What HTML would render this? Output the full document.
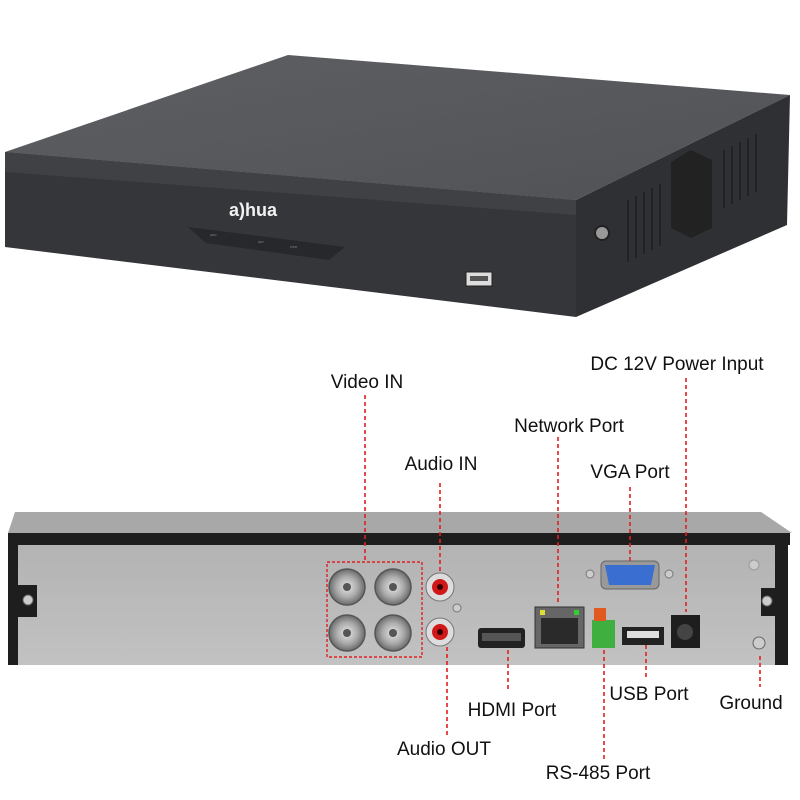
<!DOCTYPE html>
<html><head><meta charset="utf-8"><style>
html,body{margin:0;padding:0;background:#fff;width:800px;height:800px;overflow:hidden}
svg{display:block}
text{font-family:"Liberation Sans",sans-serif}
.lb{font-size:19px;fill:#111;text-anchor:middle}
.rl{stroke:#e02020;stroke-width:1.6;stroke-dasharray:4 3;fill:none}
</style></head><body>
<svg width="800" height="800" viewBox="0 0 800 800">
<defs>
<linearGradient id="tg" x1="0" y1="0" x2="1" y2="1"><stop offset="0" stop-color="#5d5f63"/><stop offset="1" stop-color="#505256"/></linearGradient>
<linearGradient id="pg" x1="0" y1="0" x2="0" y2="1"><stop offset="0" stop-color="#b3b3b3"/><stop offset="1" stop-color="#c2c2c2"/></linearGradient>
<radialGradient id="bnc"><stop offset="0" stop-color="#e8e8e8"/><stop offset="0.6" stop-color="#a8a8a8"/><stop offset="1" stop-color="#6a6a6a"/></radialGradient>
</defs>
<!-- top DVR -->
<polygon points="288,55 790,95 576,200 5,152" fill="url(#tg)"/>
<polygon points="5,152 576,200 576,317 5,247" fill="#34363a"/>
<polygon points="5,152 576,200 576,215 5,172" fill="#3f4145"/>
<polygon points="576,200 790,95 787,225 576,317" fill="#2e3034"/>
<polygon points="188,227 345,247 329,260 206,243" fill="#26282b"/>
<text x="210" y="236" font-size="3" fill="#888">HDD</text>
<text x="258" y="243" font-size="3" fill="#888">NET</text>
<text x="290" y="248" font-size="3" fill="#888">PWR</text>
<text x="229" y="216" font-size="18" font-weight="bold" fill="#f2f2f2">a)hua</text>
<rect x="466" y="272" width="26" height="14" fill="#ddd" stroke="#222"/>
<rect x="470" y="276" width="18" height="5" fill="#555"/>
<circle cx="602" cy="233" r="7" fill="#999" stroke="#222" stroke-width="2"/>
<g stroke="#222" stroke-width="2">
<line x1="628" y1="200" x2="628" y2="262"/><line x1="636" y1="196" x2="636" y2="258"/><line x1="644" y1="192" x2="644" y2="254"/><line x1="652" y1="188" x2="652" y2="250"/><line x1="660" y1="184" x2="660" y2="246"/>
<line x1="724" y1="150" x2="724" y2="208"/><line x1="732" y1="146" x2="732" y2="204"/><line x1="740" y1="142" x2="740" y2="200"/><line x1="748" y1="138" x2="748" y2="196"/><line x1="756" y1="134" x2="756" y2="192"/>
</g>
<polygon points="691,150 712,160 712,228 691,238 671,228 671,162" fill="#222"/>
<!-- rear panel -->
<polygon points="15,512 761,512 792,533 8,533" fill="#a8a8a8"/>
<rect x="8" y="533" width="782" height="12" fill="#1e1e1e"/>
<rect x="15" y="545" width="760" height="120" fill="url(#pg)"/>
<rect x="8" y="533" width="10" height="132" fill="#1e1e1e"/>
<rect x="775" y="533" width="13" height="132" fill="#1e1e1e"/>
<rect x="15" y="585" width="22" height="32" fill="#1e1e1e"/>
<circle cx="28" cy="600" r="5" fill="#ccc" stroke="#666"/>
<rect x="761" y="588" width="26" height="28" fill="#1e1e1e"/>
<circle cx="767" cy="601" r="5" fill="#ccc" stroke="#666"/>
<circle cx="754" cy="565" r="5" fill="#ccc" stroke="#999"/>
<circle cx="759" cy="643" r="6" fill="#ccc" stroke="#666"/>
<g stroke="#555" stroke-width="1.5">
<circle cx="347" cy="587" r="18" fill="url(#bnc)"/><circle cx="393" cy="587" r="18" fill="url(#bnc)"/>
<circle cx="347" cy="633" r="18" fill="url(#bnc)"/><circle cx="393" cy="633" r="18" fill="url(#bnc)"/>
</g>
<g fill="#555"><circle cx="347" cy="587" r="4"/><circle cx="393" cy="587" r="4"/><circle cx="347" cy="633" r="4"/><circle cx="393" cy="633" r="4"/></g>
<rect x="327" y="562" width="95" height="95" fill="none" stroke="#e02020" stroke-width="1.4" stroke-dasharray="3 2"/>
<circle cx="440" cy="587" r="14" fill="#ddd" stroke="#777"/><circle cx="440" cy="587" r="8" fill="#d01818"/><circle cx="440" cy="587" r="3" fill="#300"/>
<circle cx="440" cy="632" r="14" fill="#ddd" stroke="#777"/><circle cx="440" cy="632" r="8" fill="#d01818"/><circle cx="440" cy="632" r="3" fill="#300"/>
<circle cx="457" cy="608" r="4" fill="#ccc" stroke="#777"/>
<rect x="478" y="628" width="47" height="20" rx="3" fill="#222"/><rect x="482" y="633" width="39" height="8" fill="#555"/>
<rect x="535" y="607" width="49" height="41" fill="#666" stroke="#333"/><rect x="541" y="618" width="37" height="26" fill="#2a2a2a"/>
<rect x="540" y="610" width="5" height="5" fill="#dd3"/><rect x="574" y="610" width="5" height="5" fill="#3c3"/>
<rect x="592" y="620" width="23" height="28" fill="#3fb040"/><rect x="594" y="608" width="12" height="13" fill="#e05a20"/>
<rect x="622" y="627" width="42" height="18" fill="#222"/><rect x="627" y="631" width="32" height="7" fill="#ddd"/>
<rect x="671" y="615" width="29" height="33" fill="#1e1e1e"/><circle cx="685" cy="632" r="8" fill="#444"/>
<circle cx="590" cy="574" r="4" fill="#ccc" stroke="#777"/><circle cx="669" cy="574" r="4" fill="#ccc" stroke="#777"/>
<rect x="601" y="561" width="58" height="28" rx="5" fill="#999" stroke="#666"/>
<polygon points="605,565 655,565 651,585 609,585" fill="#3a6ed0"/>
<!-- lines -->
<path class="rl" d="M365 395V562M440 483V573M558 437V603M630 487V562M686 378V612M447 647V735M508 650V690M604 650V760M646 645V680M760 656V687"/>
<!-- labels -->
<text class="lb" x="367" y="388">Video IN</text>
<text class="lb" x="441" y="470">Audio IN</text>
<text class="lb" x="569" y="432">Network Port</text>
<text class="lb" x="630" y="478">VGA Port</text>
<text class="lb" x="677" y="370">DC 12V Power Input</text>
<text class="lb" x="444" y="755">Audio OUT</text>
<text class="lb" x="512" y="716">HDMI Port</text>
<text class="lb" x="598" y="779">RS-485 Port</text>
<text class="lb" x="649" y="700">USB Port</text>
<text class="lb" x="751" y="709">Ground</text>
</svg>
</body></html>
